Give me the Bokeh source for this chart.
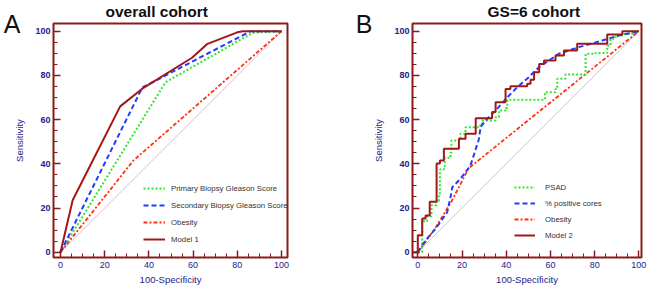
from bokeh.plotting import figure
from bokeh.layouts import row
from bokeh.models import FixedTicker, Legend, LegendItem, Range1d, Title, LinearAxis
from bokeh.embed import file_html
from bokeh.resources import INLINE

# ---------------- data ----------------
tick_vals = [0, 20, 40, 60, 80, 100]
tick_labels = ["0", "20", "40", "60", "80", "100"]
minor_vals = [v for v in range(0, 101, 5) if v % 20]

diag_x = [0, 100]
diag_y = [0, 100]

# Panel A: overall cohort
a_primary_x = [0, 47.5, 87, 100]
a_primary_y = [0, 76.9, 99.3, 100]
a_secondary_x = [0, 37, 86, 100]
a_secondary_y = [0, 74.5, 100, 100]
a_obesity_x = [0, 33, 100]
a_obesity_y = [0, 41.5, 100]
a_model_x = [0, 5.5, 27, 37, 59.5, 66.5, 80, 82.5, 100]
a_model_y = [0, 23.5, 66, 74, 88, 94.3, 99.5, 100, 100]
a_names = ["Primary Biopsy Gleason Score", "Secondary Biopsy Gleason Score", "Obesity", "Model 1"]

# Panel B: GS=6 cohort
b_psad_x = [0, 2, 4.2, 6.2, 8.5, 9.5, 10, 11.8, 12.2, 14.8, 15.2, 19.3, 21.6, 27.6, 29.1,
            35.2, 36.7, 39.7, 40.5, 57.5, 62.3, 63.1, 66.8, 75.9, 80.4, 85.7, 87.2, 89.5,
            93.2, 97, 100]
b_psad_y = [0, 14, 16.3, 21.3, 23.1, 26.1, 37.4, 38.9, 42.7, 45, 50.5, 53.6, 56.6, 57.3, 59.6,
            61.1, 64.1, 65.3, 69, 72.4, 73.9, 78.5, 80.4, 89.8, 90.2, 93.5, 96.6, 98.1,
            98.8, 100, 100]
b_cores_x = [0, 0.5, 3.5, 8, 13.3, 14.8, 15.6, 19.3, 23.8, 27.6, 28.4, 30.6, 35.2, 40.5,
             45, 50.2, 54.8, 63.8, 72.9, 83.4, 91, 100]
b_cores_y = [0, 0.8, 5.3, 10.6, 18.1, 24.9, 29.4, 33.2, 39.2, 51, 56.6, 59.6, 64.1, 70.1,
             74.7, 79.2, 83.7, 89.8, 92.8, 95.8, 98.1, 100]
b_obesity_x = [0, 8, 15, 23, 100]
b_obesity_y = [0, 11, 22.5, 38, 100]
b_model_x = [-2.4, 0, 0, 2.0, 3.5, 5.4, 8.5, 10.0, 11.8, 18.6, 21.6, 26.2, 33.6, 35.2, 39.7,
             41.9, 49.5, 51, 52.6, 54.9, 57.1, 62.3, 66.1, 72.1, 85.7, 92.5, 100]
b_model_y = [0, 0, 7.7, 15.2, 16.6, 22.8, 40.1, 41.5, 46.8, 51.3, 53.6, 60.6, 63.4, 67.9, 73.9,
             75.1, 76.2, 78, 81.4, 85.2, 86.7, 89, 91.3, 94.3, 98.5, 100, 100]
b_names = ["PSAD", "% positive cores", "Obesity", "Model 2"]

Y_TOP = 103.5

# ---------------- styles ----------------
NAVY = "#22228c"
MAROON = "#8b1a1a"
FONT = "Liberation Sans"
GREEN = "#2ee62e"
BLUE = "#1f3cff"
RED = "#ff3010"
MODEL = "#a01818"
DIAG = "#d9bfd3"


def make_fig(xr, left, right, title, title_offset, letter, letter_standoff):
    p = figure(width=325, height=288, x_range=Range1d(*xr), y_range=Range1d(-2.4, Y_TOP),
               output_backend="svg", toolbar_location=None,
               min_border_left=left, min_border_right=right,
               min_border_top=23, min_border_bottom=31)
    p.title = Title(text=title, align="left", offset=title_offset, standoff=4,
                    text_font=FONT, text_font_size="15.5px", text_font_style="bold",
                    text_color="#111111", vertical_align="top")
    p.outline_line_color = MAROON
    p.outline_line_width = 2
    p.xgrid.visible = False
    p.ygrid.visible = False
    p.background_fill_color = "white"
    p.border_fill_color = "white"
    for ax in (p.xaxis[0], p.yaxis[0]):
        ax.ticker = FixedTicker(ticks=tick_vals, minor_ticks=minor_vals)
        ax.major_label_overrides = {v: l for v, l in zip(tick_vals, tick_labels)}
        ax.axis_line_color = None
        ax.major_tick_in = 7
        ax.major_tick_out = 0
        ax.minor_tick_in = 4
        ax.minor_tick_out = 0
        ax.major_tick_line_color = MAROON
        ax.major_tick_line_width = 1.5
        ax.minor_tick_line_color = MAROON
        ax.minor_tick_line_width = 1
        ax.major_label_text_color = NAVY
        ax.major_label_text_font = FONT
        ax.major_label_text_font_size = "9px"
        ax.axis_label_text_color = NAVY
        ax.axis_label_text_font = FONT
        ax.axis_label_text_font_style = "normal"
        ax.axis_label_text_font_size = "9.5px"
    p.yaxis[0].major_label_text_font_style = "bold"
    p.xaxis[0].axis_label = "100-Specificity"
    p.yaxis[0].axis_label = "Sensitivity"
    p.xaxis[0].major_label_standoff = 4
    p.xaxis[0].axis_label_standoff = 3
    p.yaxis[0].major_label_standoff = 3
    p.yaxis[0].axis_label_standoff = 7
    # panel letter, drawn as the single tick label of an outer left axis
    la = LinearAxis(ticker=FixedTicker(ticks=[Y_TOP]), major_label_overrides={Y_TOP: letter},
                    axis_line_color=None, major_tick_line_color=None, minor_tick_line_color=None,
                    major_tick_in=0, major_tick_out=0, major_label_standoff=letter_standoff,
                    major_label_text_font=FONT, major_label_text_font_size="25px",
                    major_label_text_color="#111111")
    p.add_layout(la, "left")
    return p


def add_legend(p, renderers, names, loc, glyph_w, standoff, spacing):
    items = [LegendItem(label=n, renderers=[r]) for n, r in zip(names, renderers)]
    lg = Legend(items=items, location=loc, padding=0, margin=0, spacing=spacing,
                glyph_width=glyph_w, glyph_height=12, label_height=12,
                label_standoff=standoff, label_text_font=FONT,
                label_text_font_size="7.8px", label_text_color="#333333",
                border_line_color=None, background_fill_alpha=0)
    p.add_layout(lg)


# ---------------- panel A ----------------
pa = make_fig((-3.17, 102.7), 53, 38, "overall cohort", 52, "A", -9)
pa.line(diag_x, diag_y, line_color=DIAG, line_width=1)
ra3 = pa.line(a_obesity_x, a_obesity_y, line_color=RED, line_width=1.8, line_dash="4 2 2 2")
ra1 = pa.line(a_primary_x, a_primary_y, line_color=GREEN, line_width=2, line_dash="2 2")
ra2 = pa.line(a_secondary_x, a_secondary_y, line_color=BLUE, line_width=2, line_dash="5 3")
ra4 = pa.line(a_model_x, a_model_y, line_color=MODEL, line_width=2)
add_legend(pa, [ra1, ra2, ra3, ra4], a_names, (90, 12), 22, 6, 5)

# ---------------- panel B ----------------
pb = make_fig((-2.4, 101.2), 87, 9, "GS=6 cohort", 75, "B", -2)
pb.line(diag_x, diag_y, line_color=DIAG, line_width=1)
rb3 = pb.line(b_obesity_x, b_obesity_y, line_color=RED, line_width=1.8, line_dash="4 2 2 2")
rb1 = pb.step(b_psad_x, b_psad_y, mode="after", line_color=GREEN, line_width=2, line_dash="2 2")
rb2 = pb.line(b_cores_x, b_cores_y, line_color=BLUE, line_width=2, line_dash="5 3")
rb4 = pb.step(b_model_x, b_model_y, mode="after", line_color=MODEL, line_width=2)
add_legend(pb, [rb1, rb2, rb3, rb4], b_names, (102, 16), 21, 10, 4)

layout = row(pa, pb)
open("out.html", "w").write(file_html(layout, INLINE))
